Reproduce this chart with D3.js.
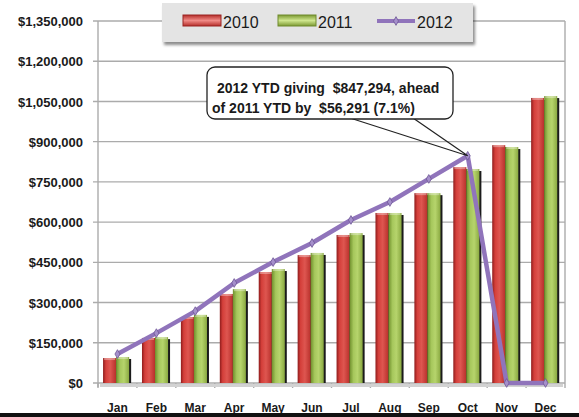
<!DOCTYPE html>
<html>
<head>
<meta charset="utf-8">
<script src="https://cdn.jsdelivr.net/npm/d3@7"></script>
<style>
	body { margin: 0; background: #fff; }
	svg { display: block; }
	.tick text { font-family: "Liberation Sans", Arial, sans-serif; font-weight: bold; fill: #1a1a1a; }
</style>
</head>
<body>
<svg id="chart" width="579" height="417"></svg>
<script>
const months = ['Jan', 'Feb', 'Mar', 'Apr', 'May', 'Jun', 'Jul', 'Aug', 'Sep', 'Oct', 'Nov', 'Dec'];
const giving2010 = [93000, 168000, 246000, 332000, 414000, 477000, 552000, 634000, 708000, 805000, 887000, 1063000];
const giving2011 = [97000, 171000, 254000, 350000, 425000, 485000, 559000, 634000, 708000, 798000, 880000, 1070000];
const giving2012 = [108000, 186000, 268000, 373000, 451000, 522000, 608000, 675000, 761000, 847294, 0, 0];
const yTicks = [0, 150000, 300000, 450000, 600000, 750000, 900000, 1050000, 1200000, 1350000];
const seriesNames = ['2010', '2011', '2012'];
const calloutLines = ['2012 YTD giving  $847,294, ahead', 'of 2011 YTD by  $56,291 (7.1%)'];

const Chart = {
	plot: { left: 98, right: 565, top: 21, bottom: 383 },
	gridColor: '#ababab',
	lineColor: '#9074bb',

	init: function() {
		const self = this;
		self.svg = d3.select('#chart');
		self.x = d3.scaleBand().domain(months).range([self.plot.left, self.plot.right]);
		self.y = d3.scaleLinear().domain([0, 1350000]).range([self.plot.bottom, self.plot.top]);
		self.addDefs();
		self.drawGrid();
		self.drawBars();
		self.drawLine();
		self.drawCallout();
		self.drawLegend();
		self.drawXLabels();
	},
	addDefs: function() {
		const defs = this.svg.append('defs');
		function grad(id, vertical, stops) {
			var g = defs.append('linearGradient').attr('id', id)
				.attr('x1', 0).attr('y1', 0)
				.attr('x2', vertical ? 0 : 1).attr('y2', vertical ? 1 : 0);
			stops.forEach(function(s) {
				g.append('stop').attr('offset', s[0]).attr('stop-color', s[1]);
			});
		}
		grad('red', false, [[0, '#8e1c1c'], [0.22, '#d43f3a'], [0.55, '#de5650'], [1, '#b8302b']]);
		grad('green', false, [[0, '#6f8f2c'], [0.3, '#a6c75c'], [0.6, '#b6d46c'], [1, '#8aa941']]);
		grad('redV', true, [[0, '#b52e2a'], [0.5, '#f08a86'], [1, '#b52e2a']]);
		grad('greenV', true, [[0, '#7c9a33'], [0.5, '#cfe68e'], [1, '#7c9a33']]);

		var f = defs.append('filter').attr('id', 'shadow')
			.attr('x', '-10%').attr('y', '-20%').attr('width', '130%').attr('height', '160%');
		f.append('feDropShadow').attr('dx', 2).attr('dy', 3).attr('stdDeviation', 1.5)
			.attr('flood-color', '#000').attr('flood-opacity', 0.45);
	},
	drawGrid: function() {
		const self = this;
		var p = self.plot;

		self.svg.append('g')
			.selectAll('line')
			.data(yTicks)
			.join('line')
			.attr('x1', p.left - 5).attr('x2', p.right)
			.attr('y1', d => self.y(d)).attr('y2', d => self.y(d))
			.attr('stroke', self.gridColor).attr('stroke-width', 1.4);

		// frame right + left axis
		self.svg.append('line')
			.attr('x1', p.right).attr('x2', p.right).attr('y1', p.top).attr('y2', p.bottom)
			.attr('stroke', self.gridColor).attr('stroke-width', 1.4);
		self.svg.append('line')
			.attr('x1', p.left).attr('x2', p.left).attr('y1', p.top).attr('y2', p.bottom + 4)
			.attr('stroke', self.gridColor).attr('stroke-width', 1.4);

		// bottom ticks at band edges
		var edges = months.map(m => self.x(m)).concat([p.right]);
		self.svg.append('g')
			.selectAll('line')
			.data(edges)
			.join('line')
			.attr('x1', d => d).attr('x2', d => d)
			.attr('y1', p.bottom).attr('y2', p.bottom + 5)
			.attr('stroke', self.gridColor).attr('stroke-width', 1.4);

		var axis = d3.axisLeft(self.y)
			.tickValues(yTicks)
			.tickSize(0)
			.tickPadding(15)
			.tickFormat(d => '$' + d3.format(',')(d));
		var g = self.svg.append('g')
			.attr('transform', 'translate(' + p.left + ',0)')
			.call(axis);
		g.select('.domain').remove();
		g.selectAll('text').style('font-size', '13px').attr('dy', '0.35em');
	},
	drawBars: function() {
		const self = this;
		var bw = self.x.bandwidth();
		var w = bw * 0.335;
		var series = [
			{ values: giving2010, offset: bw * 0.13, fill: 'url(#red)' },
			{ values: giving2011, offset: bw * 0.13 + w, fill: 'url(#green)' }
		];

		// soft shadow along the base
		self.svg.append('rect')
			.attr('x', self.plot.left + 2).attr('y', self.plot.bottom + 1)
			.attr('width', self.plot.right - self.plot.left - 4).attr('height', 3)
			.attr('fill', '#d2d2d2');

		series.forEach(function(s) {
			var g = self.svg.append('g');
			// dark right edge shadow
			g.selectAll('rect.sh')
				.data(months)
				.join('rect')
				.attr('class', 'sh')
				.attr('x', (m, i) => self.x(m) + s.offset + 2)
				.attr('y', (m, i) => self.y(s.values[i]) + 2)
				.attr('width', w)
				.attr('height', (m, i) => self.plot.bottom - self.y(s.values[i]) - 2)
				.attr('fill', '#1b1b1b');
			g.selectAll('rect.bar')
				.data(months)
				.join('rect')
				.attr('class', 'bar')
				.attr('x', (m, i) => self.x(m) + s.offset)
				.attr('y', (m, i) => self.y(s.values[i]))
				.attr('width', w)
				.attr('height', (m, i) => self.plot.bottom - self.y(s.values[i]))
				.attr('fill', s.fill);
			// light top cap
			g.selectAll('rect.cap')
				.data(months)
				.join('rect')
				.attr('class', 'cap')
				.attr('x', (m, i) => self.x(m) + s.offset + 1)
				.attr('y', (m, i) => self.y(s.values[i]))
				.attr('width', w - 2)
				.attr('height', 2)
				.attr('fill', '#fff')
				.attr('opacity', 0.35);
		});
	},
	drawLine: function() {
		const self = this;
		var cx = m => self.x(m) + self.x.bandwidth() / 2;
		var line = d3.line()
			.x((d, i) => cx(months[i]))
			.y(d => self.y(d));

		self.svg.append('path')
			.datum(giving2012)
			.attr('d', line)
			.attr('fill', 'none')
			.attr('stroke', self.lineColor)
			.attr('stroke-width', 4.5)
			.attr('stroke-linejoin', 'round');

		self.svg.append('g')
			.selectAll('path')
			.data(giving2012)
			.join('path')
			.attr('d', d3.symbol().type(d3.symbolDiamond).size(22))
			.attr('transform', (d, i) => 'translate(' + [cx(months[i]), self.y(d)] + ')')
			.attr('fill', '#a58fcb')
			.attr('stroke', '#6f5896')
			.attr('stroke-width', 0.8);
	},
	drawCallout: function() {
		const self = this;
		var tipX = self.x('Oct') + self.x.bandwidth() / 2;
		var tipY = self.y(giving2012[9]);
		var box = { x: 207, y: 67, w: 246, h: 52 };

		self.svg.append('path')
			.attr('d', 'M' + [350, box.y + box.h - 1] + 'L' + [tipX, tipY] + 'L' + [413, box.y + box.h - 1])
			.attr('fill', 'none')
			.attr('stroke', '#222')
			.attr('stroke-width', 1.2);

		self.svg.append('rect')
			.attr('x', box.x).attr('y', box.y)
			.attr('width', box.w).attr('height', box.h)
			.attr('rx', 8)
			.attr('fill', '#fff')
			.attr('stroke', '#222')
			.attr('stroke-width', 1.3);

		self.svg.append('g')
			.selectAll('text')
			.data(calloutLines)
			.join('text')
			.attr('x', (d, i) => box.x + (i == 0 ? 10 : 5))
			.attr('y', (d, i) => box.y + 26 + i * 20)
			.style('font-family', '"Liberation Sans", Arial, sans-serif')
			.style('font-weight', 'bold')
			.style('font-size', '14px')
			.style('white-space', 'pre')
			.attr('fill', '#1a1a1a')
			.text(d => d);
	},
	drawLegend: function() {
		const self = this;
		var g = self.svg.append('g');
		g.append('rect')
			.attr('x', 162).attr('y', 3)
			.attr('width', 311).attr('height', 39)
			.attr('fill', '#e4e4e4')
			.attr('filter', 'url(#shadow)');

		var items = [
			{ name: seriesNames[0], x: 183, type: 'bar', fill: 'url(#redV)', stroke: '#9a2522' },
			{ name: seriesNames[1], x: 278, type: 'bar', fill: 'url(#greenV)', stroke: '#6e8a2c' },
			{ name: seriesNames[2], x: 377, type: 'line' }
		];
		items.forEach(function(it) {
			if (it.type == 'bar')
				g.append('rect')
					.attr('x', it.x).attr('y', 15)
					.attr('width', 38).attr('height', 11)
					.attr('fill', it.fill)
					.attr('stroke', it.stroke).attr('stroke-width', 1);
			else {
				g.append('line')
					.attr('x1', it.x).attr('x2', it.x + 38)
					.attr('y1', 21).attr('y2', 21)
					.attr('stroke', self.lineColor).attr('stroke-width', 4);
				g.append('path')
					.attr('d', d3.symbol().type(d3.symbolDiamond).size(22))
					.attr('transform', 'translate(' + [it.x + 19, 21] + ')')
					.attr('fill', '#a58fcb').attr('stroke', '#6f5896').attr('stroke-width', 0.8);
			}
			g.append('text')
				.attr('x', it.x + 40).attr('y', 28)
				.style('font-family', '"Liberation Sans", Arial, sans-serif')
				.style('font-size', '16px')
				.attr('fill', '#1a1a1a')
				.text(it.name);
		});
	},
	drawXLabels: function() {
		const self = this;
		self.svg.append('g')
			.selectAll('text')
			.data(months)
			.join('text')
			.attr('x', m => self.x(m) + self.x.bandwidth() / 2)
			.attr('y', 412)
			.attr('text-anchor', 'middle')
			.style('font-family', '"Liberation Sans", Arial, sans-serif')
			.style('font-weight', 'bold')
			.style('font-size', '12px')
			.attr('fill', '#1a1a1a')
			.text(m => m);

		// dark strip along the bottom edge
		self.svg.append('rect')
			.attr('x', 0).attr('y', 413)
			.attr('width', 579).attr('height', 4)
			.attr('fill', '#111');
	}
};

Chart.init();
</script>
</body>
</html>
